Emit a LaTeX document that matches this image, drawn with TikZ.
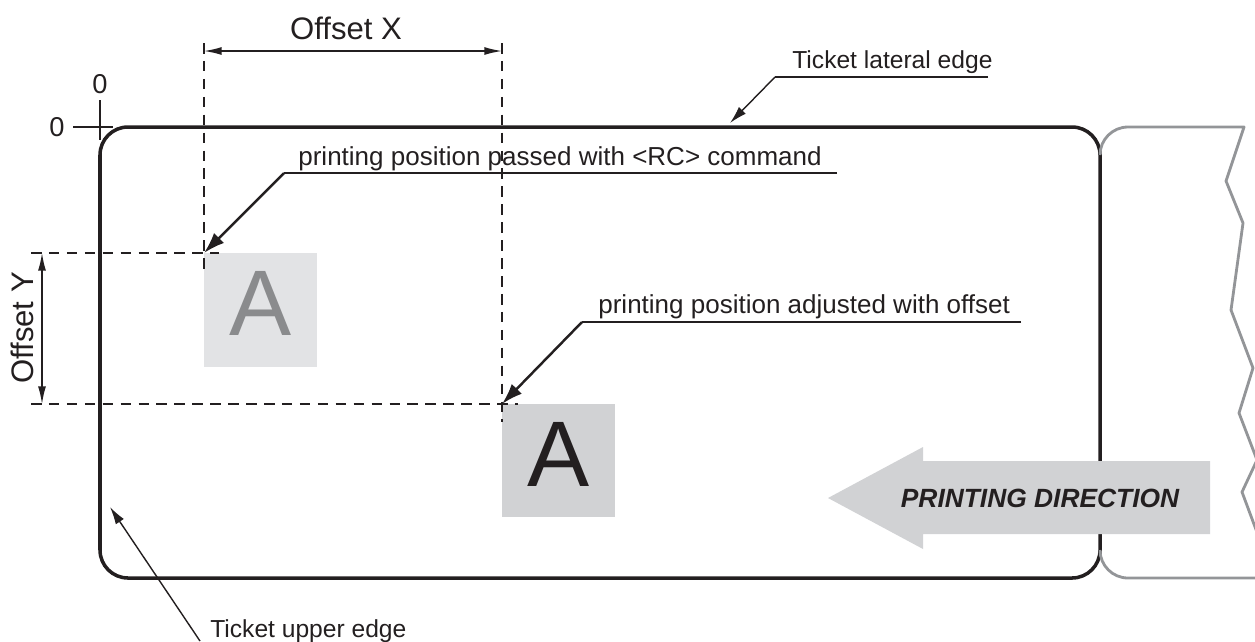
\documentclass[tikz,border=0pt]{standalone}
\usepackage{fontspec}
\setmainfont{Liberation Sans}
\usetikzlibrary{arrows.meta, positioning}
\definecolor{ink}{HTML}{231F20}
\definecolor{boxlight}{HTML}{E2E3E5}
\definecolor{boxdark}{HTML}{D1D2D4}
\definecolor{lettergrey}{HTML}{8A8B8D}
\definecolor{stubgrey}{HTML}{939598}

\tikzset{
  ticketline/.style={draw=ink, line width=2pt, rounded corners=5.6mm},
  stubline/.style={draw=stubgrey, line width=1.6pt},
  guide/.style={draw=ink, line width=1.5pt, dash pattern=on 6pt off 4.2pt},
  dimline/.style={draw=ink, line width=0.8pt, {Latex[length=10pt,width=4.5pt]}-{Latex[length=10pt,width=4.5pt]}},
  leader/.style={draw=ink, line width=1.4pt},
  leaderarrow/.style={leader, -{Latex[length=12pt,width=8pt]}},
  thinleader/.style={draw=ink, line width=0.8pt},
  thinarrow/.style={thinleader, -{Latex[length=10pt,width=5.5pt]}},
  lbl/.style={text=ink, inner sep=0pt, font=\fontsize{14.8}{17}\selectfont},
  edgelbl/.style={text=ink, inner sep=0pt, font=\fontsize{14}{16}\selectfont},
  offlbl/.style={text=ink, inner sep=0pt, font=\fontsize{17.7}{20}\selectfont},
  zerolbl/.style={text=ink, inner sep=0pt, font=\fontsize{15.5}{17}\selectfont},
  bigA/.style={inner sep=0pt, font=\fontsize{53}{60}\selectfont}
}

\begin{document}
\begin{tikzpicture}[x=0.2mm, y=-0.2mm]
        \useasboundingbox (0,0) rectangle (1255,641);

        % print positions
        \coordinate (p1) at (204,253);
        \coordinate (p2) at (502,404);

        % A boxes
        \fill[boxlight] (204,253) rectangle (317,367);
        \node[bigA, text=lettergrey] (letA1) at (260.5,303.5) {A};
        \fill[boxdark] (502,404) rectangle (615,517);
        \node[bigA, text=ink] (letA2) at (558.5,454) {A};

        % Ticket
        \draw[ticketline] (100,127) rectangle (1100,578);

        % next ticket (torn)
        \draw[stubline, line join=round] (1100,155) arc (180:270:28) -- (1244,127) -- (1226,181)
            -- (1243,223) -- (1231,310) -- (1253,368) -- (1239,413) -- (1257,460)
            -- (1242,492) -- (1258,535) -- (1262,548);
        \draw[stubline] (1100,550) arc (180:90:28) -- (1262,578);

        % Origin
        \coordinate (org) at (100,127);
        \draw[ink, line width=0.7pt] (73,127) -- (113,127);
        \draw[ink, line width=0.7pt] (100,100) -- (100,140);
        \node[zerolbl] (zeroX) at (100,84) {0};
        \node[zerolbl] (zeroY) at (57,127) {0};

        % Guides
        \draw[guide] (204,43) -- (204,270);
        \draw[guide] (502,43) -- (502,422);
        \draw[guide] (31,253) -- (219,253);
        \draw[guide] (31,404) -- (518,404);

        % Offset X
        \coordinate (ox1) at (204,51);
        \coordinate (ox2) at (502,51);
        \draw[dimline] (ox1) -- (ox2);
        \node[offlbl] (offX) at (346,28.5) {Offset X};

        % Offset Y
        \coordinate (oy1) at (42,253);
        \coordinate (oy2) at (42,404);
        \draw[dimline] (oy1) -- (oy2);
        \node[offlbl, rotate=90] (offY) at (22,328) {Offset Y};

        % Leader: passed with <RC>
        \coordinate (rcA) at (284,173);
        \coordinate (rcB) at (837,173);
        \node[lbl, anchor=base west] (rcText) at (298,165) {printing position passed with <RC> command};
        \draw[leader] (rcB) -- (rcA);
        \draw[leaderarrow] (rcA) -- (p1);

        % Leader: adjusted with offset
        \coordinate (adjA) at (582,322);
        \coordinate (adjB) at (1021,322);
        \node[lbl, anchor=base west] (adjText) at (598,313) {printing position adjusted with offset};
        \draw[leader] (adjB) -- (adjA);
        \draw[leaderarrow] (adjA) -- (p2);

        % Ticket lateral edge
        \coordinate (latA) at (775,77);
        \coordinate (latB) at (988,77);
        \coordinate (latTip) at (730,123);
        \node[edgelbl, anchor=base west] (latText) at (792,68) {Ticket lateral edge};
        \draw[thinleader] (latB) -- (latA);
        \draw[thinarrow] (latA) -- (latTip);

        % Ticket upper edge
        \coordinate (upA) at (200,641);
        \coordinate (upTip) at (110,507);
        \node[edgelbl, anchor=base west] (upText) at (210,637) {Ticket upper edge};
        \draw[thinarrow] (upA) -- (upTip);

        % Printing direction
        \fill[boxdark] (828,498) -- (923,447) -- (923,461) -- (1210,461) -- (1210,534)
            -- (923,534) -- (923,549) -- cycle;
        \node[text=ink, inner sep=0pt, font=\fontsize{15}{18}\selectfont\bfseries\itshape] (dirText) at (1040,498) {PRINTING DIRECTION};
    \end{tikzpicture}
\end{document}
